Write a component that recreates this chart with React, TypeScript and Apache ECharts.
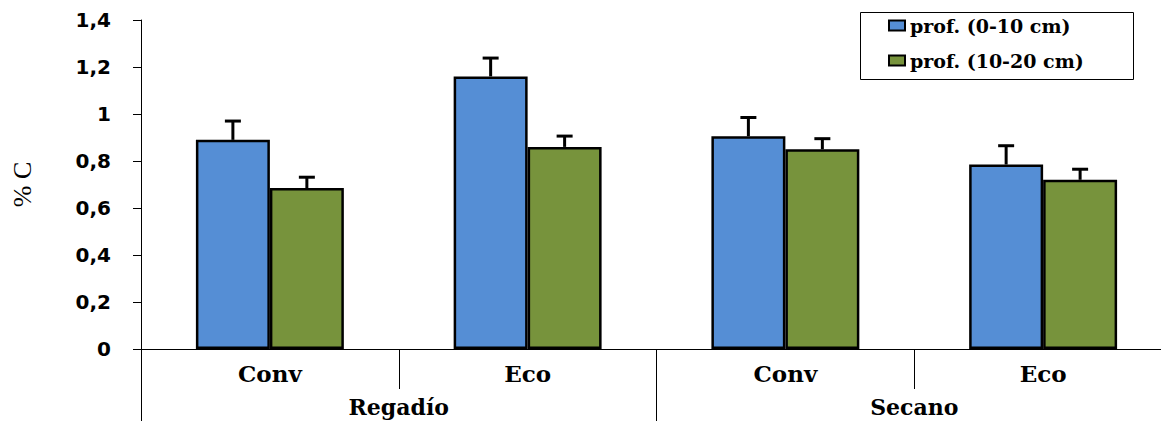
import React, { useEffect, useRef } from "react";
import * as echarts from "echarts";

// Management systems within each irrigation regime
const categories = ["Conv", "Eco", "Conv", "Eco"];
const groups = ["Regadío", "Secano"];
const depthNames = ["prof. (0-10 cm)", "prof. (10-20 cm)"];

// Soil carbon (%C) per depth, with standard error
const shallow = [0.89, 1.16, 0.905, 0.785];
const shallowErr = [0.08, 0.078, 0.08, 0.08];
const deep = [0.685, 0.86, 0.85, 0.72];
const deepErr = [0.046, 0.046, 0.045, 0.045];

const BLUE = "#558ED5";
const GREEN = "#77933C";
const BAR_FRACTION = 0.287;

const errorSeries = (vals: number[], errs: number[], side: number) => ({
  type: "custom",
  xAxisIndex: 0,
  yAxisIndex: 0,
  z: 5,
  silent: true,
  encode: { x: 0, y: 1 },
  data: vals.map((v, i) => [i, v, errs[i]]),
  renderItem: (_params: any, api: any) => {
    const i = api.value(0);
    const v = api.value(1);
    const e = api.value(2);
    const base = api.coord([i, v]);
    const top = api.coord([i, v + e]);
    const band = api.size([1, 0])[0];
    const x = base[0] + (side * band * BAR_FRACTION) / 2;
    const style = { stroke: "#000", lineWidth: 3 };
    return {
      type: "group",
      children: [
        { type: "line", shape: { x1: x, y1: base[1], x2: x, y2: top[1] }, style },
        { type: "line", shape: { x1: x - 8, y1: top[1], x2: x + 8, y2: top[1] }, style },
      ],
    };
  },
});

export default function App() {
  const ref = useRef<HTMLDivElement>(null);

  useEffect(() => {
    if (!ref.current) return;
    const chart = echarts.init(ref.current, undefined, { renderer: "svg" });
    const serifBold = {
      fontFamily: "DejaVu Serif",
      fontWeight: "bold",
      color: "#000",
    };
    chart.setOption({
      animation: false,
      backgroundColor: "#fff",
      // plot area runs slightly past the right edge of the canvas
      grid: {
        left: 141,
        top: 20,
        bottom: 72,
        width: 1031,
        containLabel: false,
        outerBoundsMode: "none",
      },
      graphic: [
        {
          type: "rect",
          left: 858,
          top: 10,
          shape: { width: 273, height: 67 },
          style: { fill: "none", stroke: "#000", lineWidth: 1 },
          z: 10,
        },
      ],
      legend: {
        data: depthNames,
        orient: "vertical",
        left: 858,
        top: 10,
        padding: [6, 10, 6, 30],
        itemGap: 16,
        itemWidth: 16,
        itemHeight: 10,
        icon: "rect",
        textStyle: { ...serifBold, fontSize: 19 },
      },
      xAxis: [
        {
          type: "category",
          data: categories,
          position: "bottom",
          axisLine: { show: true, lineStyle: { color: "#000", width: 1 } },
          axisTick: {
            show: true,
            interval: 0,
            length: 40,
            lineStyle: { color: "#000", width: 1 },
          },
          axisLabel: { ...serifBold, fontSize: 23, margin: 13, interval: 0 },
        },
        {
          type: "category",
          data: groups,
          position: "bottom",
          axisLine: { show: false },
          axisTick: {
            show: true,
            interval: 0,
            length: 72,
            lineStyle: { color: "#000", width: 1 },
          },
          axisLabel: { ...serifBold, fontSize: 22, margin: 47, interval: 0 },
        },
      ],
      yAxis: {
        type: "value",
        min: 0,
        max: 1.4,
        interval: 0.2,
        name: "% C",
        nameLocation: "middle",
        nameRotate: 90,
        nameGap: 106,
        nameTextStyle: {
          fontFamily: "Liberation Serif",
          fontSize: 26,
          color: "#000",
        },
        axisLine: { show: true, lineStyle: { color: "#000", width: 1 } },
        axisTick: { show: true, length: 8, lineStyle: { color: "#000", width: 1 } },
        splitLine: { show: false },
        axisLabel: {
          fontFamily: "DejaVu Sans",
          fontWeight: "bold",
          fontSize: 20,
          color: "#000",
          margin: 30,
          formatter: (v: number) => String(+v.toFixed(1)).replace(".", ","),
        },
      },
      series: [
        {
          name: depthNames[0],
          type: "bar",
          data: shallow,
          barWidth: `${BAR_FRACTION * 100}%`,
          barGap: "0%",
          itemStyle: { color: BLUE, borderColor: "#000", borderWidth: 2.5 },
        },
        {
          name: depthNames[1],
          type: "bar",
          data: deep,
          barWidth: `${BAR_FRACTION * 100}%`,
          barGap: "0%",
          itemStyle: { color: GREEN, borderColor: "#000", borderWidth: 2.5 },
        },
        errorSeries(shallow, shallowErr, -1),
        errorSeries(deep, deepErr, 1),
      ],
    });
    return () => chart.dispose();
  }, []);

  return (
    <div
      ref={ref}
      style={{ position: "fixed", left: 0, top: 0, width: 1161, height: 421 }}
    />
  );
}
